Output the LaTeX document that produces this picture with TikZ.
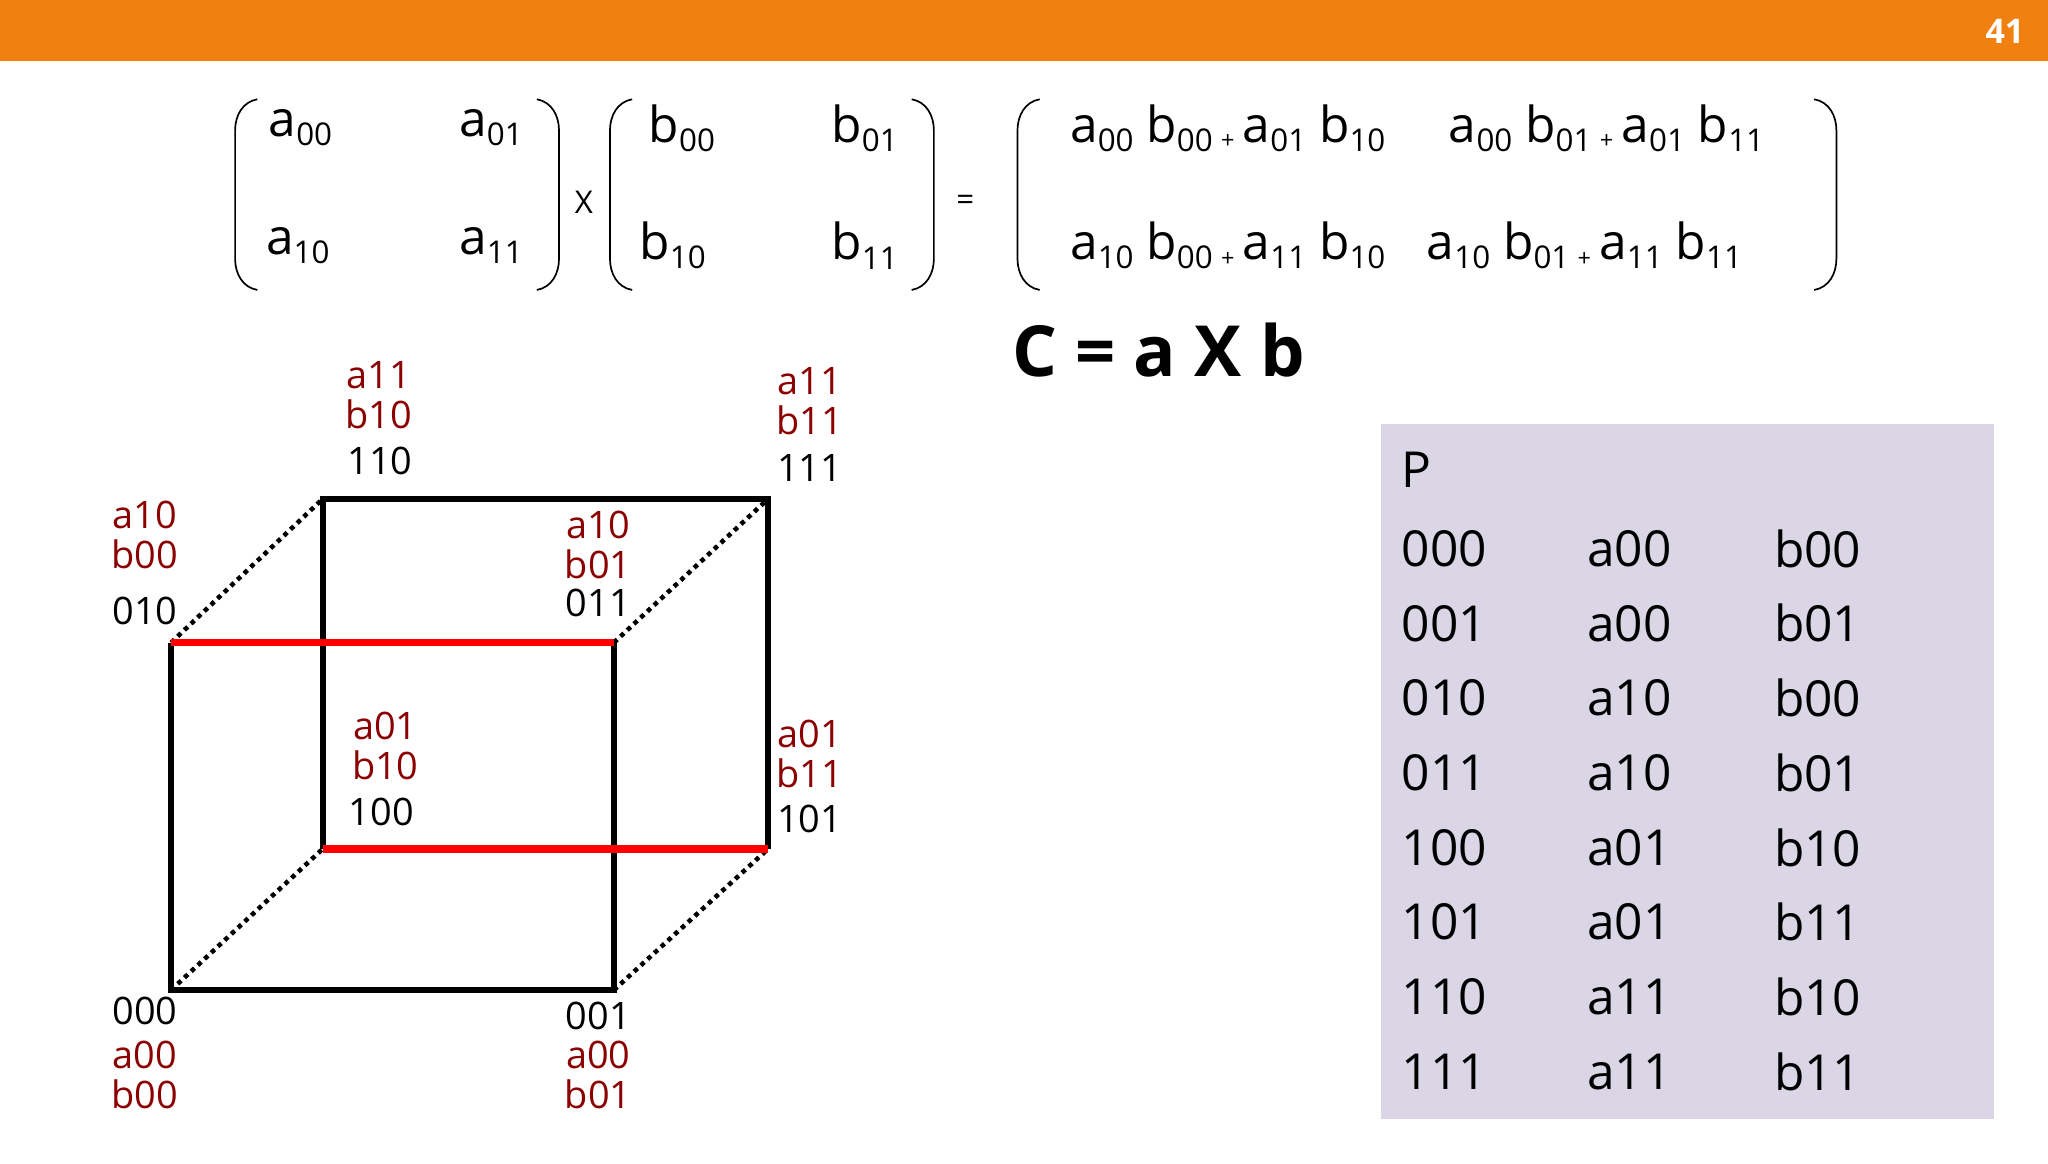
\documentclass[tikz,border=0pt]{standalone}
\usepackage{fontspec}
\setmainfont{Open Sans}
\definecolor{orng}{HTML}{F08010}
\definecolor{dred}{HTML}{8B0000}
\definecolor{lav}{HTML}{DAD6E6}
\newcommand{\ms}[2]{#1\raisebox{-0.35ex}{\fontsize{24}{24}\selectfont#2}}
\newcommand{\pl}{\,\raisebox{-0.25ex}{\fontsize{18}{18}\selectfont +}\,}
\begin{document}
\begin{tikzpicture}[x=1pt,y=-1pt,
  mat/.style={font=\fontsize{38}{40}\selectfont,anchor=center,inner sep=0},
  paren/.style={line width=1.3pt},
  lab/.style={font=\fontsize{29}{30}\selectfont,anchor=center,inner sep=0},
  rl/.style={lab,text=dred},
  tb/.style={font=\fontsize{38}{40}\selectfont,anchor=west,inner sep=0},
  edge/.style={line width=4.5pt},
  redge/.style={line width=5.5pt,red},
  dot/.style={line width=3.5pt,dash pattern=on 3.5pt off 3.5pt}]
\useasboundingbox (0,0) rectangle (1568,891);
\fill[orng] (0,0) rectangle (1568,47);
\node[font=\bfseries\fontsize{26}{28}\selectfont,text=white] (pg) at (1535,24) {41};
% parens
\draw[paren] (197,76) to[out=190,in=90] (180,100) -- (180,198) to[out=-90,in=170] (197,222);
\draw[paren] (411,76) to[out=-10,in=90] (428,100) -- (428,198) to[out=-90,in=10] (411,222);
\draw[paren] (484,76) to[out=190,in=90] (467,100) -- (467,198) to[out=-90,in=170] (484,222);
\draw[paren] (698,76) to[out=-10,in=90] (715,100) -- (715,198) to[out=-90,in=10] (698,222);
\draw[paren] (796,76) to[out=190,in=90] (779,100) -- (779,198) to[out=-90,in=170] (796,222);
\draw[paren] (1389,76) to[out=-10,in=90] (1406,100) -- (1406,198) to[out=-90,in=10] (1389,222);
\node[mat] (a00) at (230,98) {\ms{a}{00}};
\node[mat] (a01) at (376,98) {\ms{a}{01}};
\node[mat] (a10) at (228,188) {\ms{a}{10}};
\node[mat] (a11) at (376,188) {\ms{a}{11}};
\node[font=\fontsize{24}{24}\selectfont] (x) at (447,155) {X};
\node[mat] (b00) at (522,98) {\ms{b}{00}};
\node[mat] (b01) at (662,98) {\ms{b}{01}};
\node[mat] (b10) at (515,188) {\ms{b}{10}};
\node[mat] (b11) at (662,188) {\ms{b}{11}};
\node[font=\fontsize{24}{24}\selectfont] (eq) at (739,155) {=};
\node[mat] (c00) at (940,98) {\ms{a}{00} \ms{b}{00}\pl\ms{a}{01} \ms{b}{10}};
\node[mat] (c01) at (1230,98) {\ms{a}{00} \ms{b}{01}\pl\ms{a}{01} \ms{b}{11}};
\node[mat] (c10) at (940,188) {\ms{a}{10} \ms{b}{00}\pl\ms{a}{11} \ms{b}{10}};
\node[mat] (c11) at (1213,188) {\ms{a}{10} \ms{b}{01}\pl\ms{a}{11} \ms{b}{11}};
\node[font=\bfseries\fontsize{54}{56}\selectfont,inner sep=0] (cab) at (887,268) {C = a X b};
% cube
\coordinate (n010) at (131,492); \coordinate (n011) at (470,492);
\coordinate (n000) at (131,758); \coordinate (n001) at (470,758);
\coordinate (n110) at (247,382); \coordinate (n111) at (588,382);
\coordinate (n100) at (247,650); \coordinate (n101) at (588,650);
\draw[dot] (n010) -- (n110); \draw[dot] (n011) -- (n111);
\draw[dot] (n000) -- (n100); \draw[dot] (n001) -- (n101);
\draw[edge] (n100) -- (n110) -- (n111) -- (n101);
\draw[edge] (n010) -- (n000) -- (n001) -- (n011);
\draw[redge] (n010) -- (n011);
\draw[redge] (n100) -- (n101);
\node[rl] (l1) at (290,287) {a11}; \node[rl] (l2) at (290,317) {b10}; \node[lab] (l3) at (291,353) {110};
\node[rl] (m1) at (620,292) {a11}; \node[rl] (m2) at (620,322) {b11}; \node[lab] (m3) at (620,358) {111};
\node[rl] (k1) at (111,394) {a10}; \node[rl] (k2) at (111,424) {b00}; \node[lab] (k3) at (111,468) {010};
\node[rl] (j1) at (458,402) {a10}; \node[rl] (j2) at (458,432) {b01}; \node[lab] (j3) at (458,462) {011};
\node[rl] (i1) at (295,556) {a01}; \node[rl] (i2) at (295,586) {b10}; \node[lab] (i3) at (292,622) {100};
\node[rl] (h1) at (620,562) {a01}; \node[rl] (h2) at (620,592) {b11}; \node[lab] (h3) at (620,627) {101};
\node[lab] (g3) at (111,774) {000}; \node[rl] (g1) at (111,808) {a00}; \node[rl] (g2) at (111,838) {b00};
\node[lab] (f3) at (458,778) {001}; \node[rl] (f1) at (458,808) {a00}; \node[rl] (f2) at (458,838) {b01};
% table
\fill[lav] (1057,325) rectangle (1527,857);
\node[tb] (P) at (1073,360) {P};
\foreach \r/\a/\b [count=\i from 0] in {000/a00/b00,001/a00/b01,010/a10/b00,011/a10/b01,100/a01/b10,101/a01/b11,110/a11/b10,111/a11/b11}{
  \node[tb] (r\i) at (1073,420+57.2*\i) {\r};
  \node[tb] (s\i) at (1215,420+57.2*\i) {\a};
  \node[tb] (t\i) at (1358,420+57.2*\i) {\b};
}
\end{tikzpicture}
\end{document}
